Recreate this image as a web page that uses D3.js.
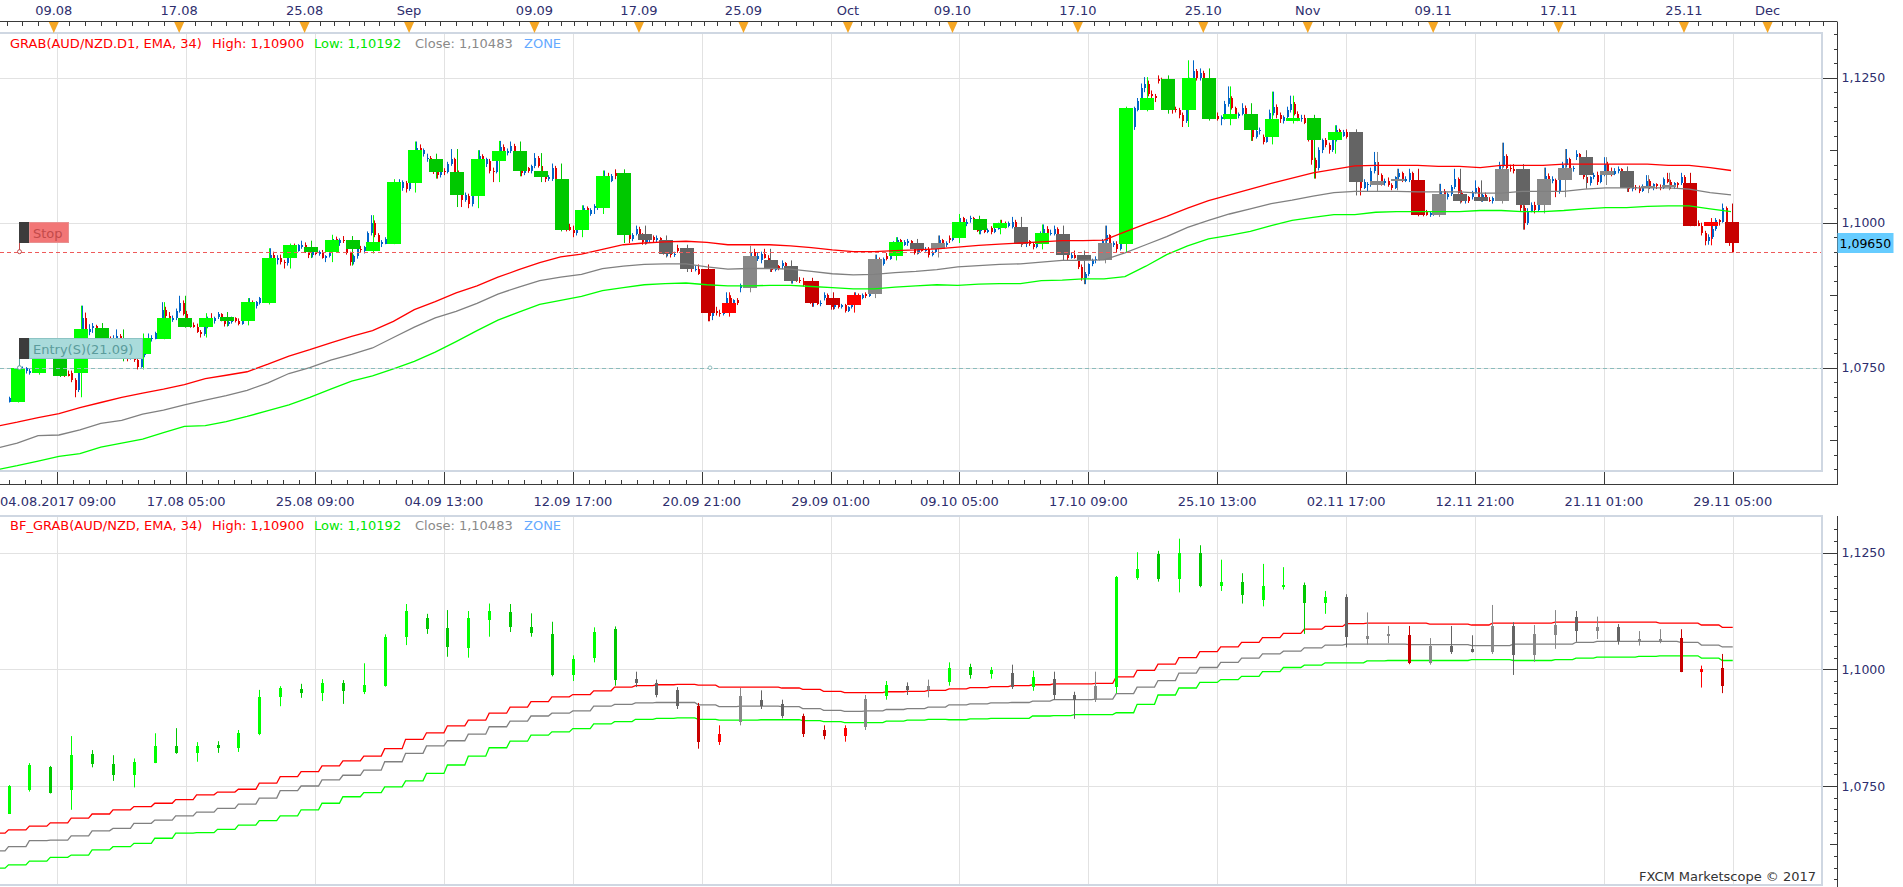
<!DOCTYPE html>
<html lang="en">
<head>
<meta charset="utf-8">
<title>GRAB AUD/NZD</title>
<script src="https://cdn.jsdelivr.net/npm/d3@7"></script>
<style>
  html, body { margin: 0; padding: 0; background: #fff; }
  #chart svg { display: block; font-family: "DejaVu Sans", Verdana, sans-serif; }
</style>
</head>
<body>
<div id="chart"></div>
<script>
// 1. daily GRAB candles (trading day k = 0 is 07.08.2017)
const dayOpen = [
  1.0691,1.0741,1.0791,1.0741,1.0818,1.0798,1.0773,1.0799,1.0836,1.0821,
  1.0838,1.0831,1.0861,1.0940,1.0958,1.0949,1.0970,1.0952,1.0964,1.1069,
  1.1109,1.1088,1.1046,1.1106,1.1123,1.1090,1.1075,1.0988,1.1025,1.1086,
  1.0980,1.0970,1.0956,1.0921,1.0845,1.0887,1.0935,1.0925,1.0900,1.0870,
  1.0858,1.0877,1.0942,1.0965,1.0955,1.0973,1.1006,1.0991,1.0992,1.0963,
  1.0980,1.0945,1.0935,1.0963,1.1195,1.1247,1.1194,1.1249,1.1178,1.1187,
  1.1148,1.1176,1.1180,1.1142,1.1156,1.1065,1.1072,1.1073,1.1014,1.1049,
  1.1044,1.1037,1.1093,1.1031,1.1073,1.1113,1.1083,1.1090,1.1060,1.1061,
  1.1068,1.0995,1.1002];
const dayHigh = [
  1.0752,1.0799,1.0793,1.0857,1.0827,1.0816,1.0809,1.0863,1.0874,1.0844,
  1.0846,1.0870,1.0956,1.0964,1.0969,1.0979,1.0977,1.1013,1.1075,1.1140,
  1.1119,1.1127,1.1125,1.1141,1.1140,1.1120,1.1102,1.1030,1.1090,1.1092,
  1.0995,1.0978,1.0962,1.0928,1.0880,1.0960,1.0955,1.0935,1.0905,1.0880,
  1.0880,1.0945,1.0975,1.0972,1.0978,1.1015,1.1012,1.1005,1.1010,1.0997,
  1.0995,1.0952,1.0995,1.1200,1.1251,1.1254,1.1280,1.1266,1.1235,1.1206,
  1.1226,1.1219,1.1186,1.1168,1.1161,1.1122,1.1093,1.1093,1.1067,1.1093,
  1.1073,1.1138,1.1101,1.1095,1.1127,1.1125,1.1113,1.1097,1.1082,1.1086,
  1.1086,1.1008,1.1033];
const dayLow = [
  1.0690,1.0738,1.0734,1.0699,1.0790,1.0761,1.0747,1.0799,1.0819,1.0802,
  1.0821,1.0823,1.0859,1.0921,1.0939,1.0932,1.0926,1.0947,1.0963,1.1052,
  1.1076,1.1027,1.1025,1.1070,1.1080,1.1070,1.0985,1.0975,1.1015,1.0965,
  1.0962,1.0940,1.0915,1.0830,1.0838,1.0880,1.0915,1.0895,1.0855,1.0850,
  1.0845,1.0870,1.0935,1.0945,1.0940,1.0965,1.0980,1.0980,1.0958,1.0954,
  1.0935,1.0894,1.0930,1.0949,1.1192,1.1188,1.1165,1.1176,1.1168,1.1141,
  1.1135,1.1171,1.1076,1.1119,1.1047,1.1053,1.1056,1.1011,1.1010,1.1033,
  1.1036,1.1033,1.0988,1.1016,1.1044,1.1059,1.1065,1.1053,1.1051,1.1056,
  1.0994,1.0961,1.0949];
const dayClose = [
  1.0749,1.0795,1.0736,1.0816,1.0798,1.0773,1.0802,1.0836,1.0820,1.0836,
  1.0831,1.0863,1.0940,1.0961,1.0949,1.0970,1.0954,1.0966,1.1070,1.1125,
  1.1087,1.1047,1.1109,1.1124,1.1090,1.1078,1.0988,1.1022,1.1081,1.0978,
  1.0970,1.0946,1.0921,1.0845,1.0862,1.0942,1.0921,1.0900,1.0862,1.0858,
  1.0875,1.0937,1.0967,1.0955,1.0965,1.1002,1.0987,1.0999,1.0963,1.0983,
  1.0944,1.0935,1.0965,1.1197,1.1215,1.1194,1.1249,1.1178,1.1187,1.1159,
  1.1178,1.1180,1.1142,1.1156,1.1070,1.1072,1.1075,1.1014,1.1049,1.1037,
  1.1037,1.1093,1.1031,1.1076,1.1095,1.1083,1.1090,1.1060,1.1064,1.1065,
  1.0995,1.1001,1.0965];
// U = above the wave, N = inside the zone, D = below
const dayZone = ("UUUUUUUUUUUUUUUUUUUUUUUU" + "UUUUUU" + "NNN" + "DD" + "NNN" + "DDD" + "N" + "U" +
  "NN" + "UUU" + "N" + "U" + "NNN" + "UUUUUUUUUUU" + "NNN" + "D" + "NNNNNNNNNNNN" + "DDD").split("");

// 2. H4 bars of each day: high, low, close in 0.0001 steps above 1.0000 (open = previous close)
const h4Bars = [
  [700,690,697, 712,695,710, 725,706,722, 738,718,735, 752,730,744, 751,740,749],
  [748,738,745, 760,742,756, 772,750,768, 785,764,770, 799,768,792, 798,786,795],
  [793,780,783, 788,765,768, 775,752,770, 772,748,750, 758,734,740, 745,735,736],
  [745,725,728, 732,699,712, 760,708,755, 857,752,835, 845,805,812, 825,806,816],
  [827,810,822, 824,805,808, 815,800,812, 818,802,804, 810,796,800, 804,790,798],
  [806,790,802, 816,798,805, 808,785,788, 792,770,775, 780,761,768, 776,764,773],
  [778,760,763, 766,747,752, 775,750,772, 792,768,790, 809,786,800, 806,795,802],
  [812,799,810, 830,806,826, 863,822,850, 855,835,840, 846,828,832, 840,829,836],
  [852,832,848, 874,845,862, 866,840,843, 848,826,830, 835,819,824, 828,819,820],
  [826,810,812, 815,802,808, 825,805,822, 838,818,834, 844,828,830, 838,826,836],
  [846,834,842, 844,830,833, 836,821,825, 832,822,829, 838,826,835, 837,828,831],
  [835,823,826, 842,824,840, 852,836,849, 870,845,858, 866,850,856, 865,852,863],
  [872,859,870, 895,866,890, 925,886,918, 956,915,945, 950,930,935, 944,928,940],
  [945,928,932, 936,921,930, 946,926,944, 958,940,955, 964,948,952, 963,950,961],
  [969,955,962, 966,948,950, 955,939,944, 956,940,952, 958,944,946, 952,943,949],
  [953,938,940, 944,932,942, 958,940,956, 979,952,972, 976,962,965, 973,960,970],
  [977,965,968, 970,945,948, 950,926,932, 945,928,942, 958,938,955, 960,948,954],
  [960,947,958, 985,955,982, 1013,978,1000, 1004,975,978, 982,960,964, 970,958,966],
  [975,963,972, 995,968,990, 1030,986,1025, 1055,1020,1050, 1075,1045,1060, 1073,1055,1070],
  [1072,1052,1058, 1085,1055,1082, 1115,1078,1110, 1140,1105,1128, 1135,1112,1118, 1128,1114,1125],
  [1119,1105,1112, 1115,1095,1098, 1102,1084,1090, 1096,1076,1082, 1092,1078,1090, 1094,1082,1087],
  [1105,1085,1102, 1127,1098,1110, 1112,1080,1084, 1090,1050,1055, 1062,1027,1040, 1052,1036,1047],
  [1050,1025,1032, 1058,1028,1055, 1082,1050,1078, 1125,1075,1115, 1118,1098,1102, 1112,1096,1109],
  [1110,1085,1090, 1095,1070,1088, 1118,1085,1115, 1141,1112,1130, 1135,1118,1120, 1128,1116,1124],
  [1140,1120,1132, 1136,1110,1114, 1120,1095,1100, 1108,1080,1086, 1098,1082,1094, 1096,1086,1090],
  [1100,1085,1098, 1120,1094,1112, 1115,1095,1098, 1102,1080,1084, 1088,1070,1075, 1082,1072,1078],
  [1102,1072,1095, 1098,1070,1072, 1075,1030,1035, 1040,1000,1005, 1010,985,992, 998,986,988],
  [995,975,982, 1000,978,998, 1012,992,1008, 1030,1004,1026, 1028,1010,1015, 1025,1012,1022],
  [1032,1015,1028, 1045,1022,1042, 1068,1040,1065, 1090,1060,1078, 1086,1068,1072, 1084,1070,1081],
  [1092,1075,1080, 1082,1040,1045, 1050,1010,1015, 1020,985,990, 995,965,972, 982,968,978],
  [995,978,990, 993,975,978, 982,962,966, 975,963,972, 980,966,975, 978,966,970],
  [978,965,973, 975,955,958, 962,945,950, 956,942,954, 958,940,944, 950,941,946],
  [962,948,952, 955,938,940, 945,928,932, 940,925,936, 938,915,920, 926,916,921],
  [928,910,912, 915,885,888, 892,860,865, 870,830,840, 852,832,848, 855,840,845],
  [850,838,842, 858,840,855, 880,852,870, 875,856,858, 868,852,866, 870,858,862],
  [895,880,892, 915,888,912, 938,908,935, 960,930,950, 955,935,938, 948,934,942],
  [950,930,946, 955,938,940, 944,925,928, 935,915,918, 928,916,925, 927,918,921],
  [935,920,930, 932,912,915, 918,902,905, 912,895,908, 912,898,902, 906,896,900],
  [905,890,892, 895,875,878, 882,860,865, 870,855,868, 872,858,860, 866,856,862],
  [880,866,875, 878,860,862, 866,850,854, 862,851,860, 864,852,855, 860,852,858],
  [860,845,848, 856,846,854, 868,852,866, 880,862,872, 878,866,870, 878,868,875],
  [880,870,874, 895,872,892, 918,890,915, 945,912,930, 940,925,928, 940,926,937],
  [948,935,938, 952,936,950, 968,948,962, 975,958,970, 972,960,962, 970,960,967],
  [972,960,968, 970,955,958, 960,945,948, 956,946,954, 960,950,952, 958,950,955],
  [958,940,944, 952,942,950, 965,948,962, 978,958,970, 972,960,962, 968,958,965],
  [978,965,970, 985,968,982, 1000,980,996, 1015,992,1008, 1010,995,998, 1006,994,1002],
  [1012,1000,1008, 1010,995,998, 1000,984,986, 992,980,990, 994,982,984, 990,982,987],
  [994,980,984, 992,982,990, 1000,988,998, 1005,994,996, 1002,990,994, 1002,992,999],
  [1010,990,1002, 1005,985,988, 990,970,974, 980,962,966, 972,958,968, 970,960,963],
  [966,954,958, 970,956,968, 985,965,980, 997,978,990, 994,980,982, 988,978,983],
  [995,978,990, 992,972,975, 978,958,962, 966,945,950, 955,935,940, 948,938,944],
  [952,938,940, 944,920,924, 928,900,905, 915,894,912, 930,908,928, 938,925,935],
  [942,930,938, 955,935,952, 972,948,968, 995,965,978, 980,960,962, 968,958,965],
  [968,949,955, 990,952,985, 1060,980,1055, 1120,1050,1115, 1170,1110,1165, 1200,1160,1197],
  [1215,1192,1210, 1240,1205,1232, 1251,1225,1240, 1245,1218,1222, 1228,1210,1218, 1222,1208,1215],
  [1254,1240,1245, 1250,1230,1235, 1240,1215,1220, 1225,1200,1205, 1210,1188,1196, 1200,1190,1194],
  [1198,1180,1185, 1190,1165,1175, 1215,1172,1210, 1250,1205,1245, 1280,1240,1262, 1265,1245,1249],
  [1266,1245,1258, 1262,1235,1240, 1245,1215,1220, 1225,1195,1200, 1205,1180,1184, 1190,1176,1178],
  [1185,1168,1182, 1210,1178,1205, 1235,1200,1215, 1218,1195,1198, 1200,1180,1184, 1190,1180,1187],
  [1206,1185,1198, 1202,1180,1183, 1186,1160,1165, 1170,1141,1148, 1162,1145,1158, 1164,1152,1159],
  [1152,1135,1140, 1160,1138,1155, 1195,1150,1190, 1226,1185,1200, 1204,1180,1185, 1190,1172,1178],
  [1185,1171,1182, 1200,1178,1195, 1219,1190,1205, 1208,1185,1188, 1192,1175,1178, 1186,1174,1180],
  [1186,1170,1172, 1175,1140,1145, 1150,1100,1108, 1112,1076,1095, 1130,1090,1125, 1145,1120,1142],
  [1146,1130,1134, 1138,1119,1125, 1145,1122,1142, 1168,1140,1160, 1162,1148,1150, 1160,1148,1156],
  [1161,1145,1148, 1150,1120,1124, 1128,1095,1100, 1105,1070,1075, 1082,1047,1060, 1075,1058,1070],
  [1070,1053,1066, 1095,1062,1090, 1122,1085,1105, 1108,1080,1082, 1085,1064,1068, 1076,1064,1072],
  [1078,1062,1065, 1068,1056,1060, 1080,1058,1078, 1093,1075,1085, 1088,1070,1072, 1080,1070,1075],
  [1093,1070,1085, 1088,1060,1062, 1065,1040,1045, 1050,1025,1028, 1032,1011,1018, 1022,1012,1014],
  [1020,1010,1016, 1030,1012,1028, 1045,1025,1040, 1067,1038,1055, 1058,1040,1044, 1052,1040,1049],
  [1065,1046,1062, 1093,1058,1075, 1078,1050,1052, 1056,1035,1040, 1046,1033,1044, 1046,1034,1037],
  [1055,1040,1052, 1073,1050,1060, 1062,1042,1045, 1050,1036,1048, 1052,1038,1040, 1044,1036,1037],
  [1045,1033,1042, 1070,1040,1068, 1105,1065,1100, 1138,1095,1115, 1118,1090,1095, 1100,1088,1093],
  [1101,1085,1090, 1092,1060,1065, 1068,1020,1025, 1030,988,1000, 1025,996,1020, 1035,1018,1031],
  [1036,1016,1022, 1045,1020,1042, 1070,1040,1066, 1095,1062,1080, 1085,1068,1072, 1080,1068,1076],
  [1076,1044,1055, 1082,1050,1078, 1105,1075,1100, 1127,1095,1110, 1112,1090,1092, 1098,1088,1095],
  [1125,1108,1118, 1120,1095,1098, 1100,1075,1078, 1082,1059,1068, 1080,1064,1078, 1086,1075,1083],
  [1088,1065,1070, 1085,1068,1082, 1113,1080,1102, 1105,1085,1088, 1095,1080,1084, 1094,1082,1090],
  [1097,1085,1092, 1094,1075,1078, 1080,1062,1065, 1068,1053,1058, 1066,1054,1062, 1065,1056,1060],
  [1064,1051,1055, 1066,1053,1062, 1082,1060,1072, 1075,1058,1060, 1068,1056,1066, 1068,1058,1064],
  [1066,1056,1060, 1078,1058,1075, 1086,1068,1070, 1074,1058,1062, 1070,1058,1068, 1070,1060,1065],
  [1086,1065,1078, 1082,1050,1055, 1060,1025,1030, 1035,1005,1010, 1015,994,1000, 1004,994,995],
  [1000,978,982, 986,961,968, 980,962,975, 995,972,990, 1008,986,1004, 1006,995,1001],
  [1033,1000,1025, 1028,985,990, 995,960,968, 975,949,965]
];

// 3. EMA(34) wave, one value per day, first value is day -1 (04.08)
const emaHigh = [1.0649,
  1.0656,1.0664,1.0671,1.0681,1.0690,1.0699,1.0706,1.0713,1.0721,1.0731,
  1.0737,1.0743,1.0756,1.0770,1.0781,1.0793,1.0804,1.0814,1.0830,1.0850,
  1.0864,1.0879,1.0891,1.0906,1.0919,1.0931,1.0941,1.0946,1.0954,1.0962,
  1.0965,1.0967,1.0968,1.0966,1.0962,1.0962,1.0962,1.0960,1.0957,1.0953,
  1.0950,1.0950,1.0952,1.0953,1.0955,1.0958,1.0961,1.0963,1.0965,1.0967,
  1.0969,1.0969,1.0970,1.0984,1.0998,1.1011,1.1025,1.1038,1.1048,1.1058,
  1.1068,1.1077,1.1086,1.1092,1.1098,1.1099,1.1099,1.1099,1.1097,1.1097,
  1.1095,1.1099,1.1099,1.1099,1.1101,1.1101,1.1101,1.1101,1.1101,1.1099,
  1.1099,1.1095,1.1090];
const emaClose = [1.0611,
  1.0620,1.0633,1.0634,1.0643,1.0654,1.0659,1.0670,1.0677,1.0686,1.0694,
  1.0702,1.0711,1.0724,1.0740,1.0750,1.0763,1.0773,1.0784,1.0802,1.0820,
  1.0836,1.0847,1.0861,1.0877,1.0889,1.0900,1.0906,1.0911,1.0921,1.0925,
  1.0928,1.0929,1.0929,1.0924,1.0920,1.0921,1.0921,1.0920,1.0916,1.0912,
  1.0910,1.0911,1.0914,1.0916,1.0919,1.0924,1.0926,1.0928,1.0929,1.0932,
  1.0935,1.0935,1.0936,1.0948,1.0962,1.0976,1.0992,1.1004,1.1015,1.1024,
  1.1033,1.1039,1.1046,1.1052,1.1054,1.1054,1.1054,1.1053,1.1053,1.1053,
  1.1051,1.1051,1.1054,1.1054,1.1054,1.1058,1.1060,1.1060,1.1060,1.1060,
  1.1058,1.1052,1.1048];
const emaLow = [1.0574,
  1.0581,1.0589,1.0597,1.0602,1.0613,1.0620,1.0627,1.0638,1.0649,1.0650,
  1.0657,1.0666,1.0676,1.0686,1.0699,1.0713,1.0727,1.0736,1.0748,1.0761,
  1.0777,1.0795,1.0814,1.0832,1.0846,1.0859,1.0866,1.0873,1.0883,1.0888,
  1.0893,1.0895,1.0896,1.0893,1.0891,1.0891,1.0892,1.0892,1.0890,1.0888,
  1.0886,1.0886,1.0889,1.0891,1.0893,1.0892,1.0894,1.0895,1.0895,1.0900,
  1.0901,1.0903,1.0903,1.0907,1.0925,1.0945,1.0960,1.0972,1.0978,1.0985,
  1.0995,1.1004,1.1009,1.1014,1.1014,1.1018,1.1019,1.1019,1.1019,1.1019,
  1.1021,1.1021,1.1019,1.1019,1.1021,1.1024,1.1026,1.1026,1.1028,1.1029,
  1.1029,1.1024,1.1019];

// 4. axes labels
const dateMarks = ["09.08","17.08","25.08","Sep","09.09","17.09","25.09","Oct","09.10","17.10","25.10","Nov","09.11","17.11","25.11","Dec"];
const dateMarkDay = [2, 8, 14, 19, 25, 30, 35, 40, 45, 51, 57, 62, 68, 74, 80, 84];
const dateMarkCal = [221, 229, 237, 244, 252, 260, 268, 274, 282, 290, 298, 305, 313, 321, 329, 335];
const timeLabels = ["04.08.2017 09:00","17.08 05:00","25.08 09:00","04.09 13:00","12.09 17:00","20.09 21:00","29.09 01:00",
  "09.10 05:00","17.10 09:00","25.10 13:00","02.11 17:00","12.11 21:00","21.11 01:00","29.11 05:00"];
const timeLabelBar = [14, 51, 88, 125, 162, 199, 236, 273, 310, 347, 384, 421, 458, 495];
const priceLabels = [1.075, 1.100, 1.125];
const lastClose = 1.0965, stopLevel = 1.0950, entryLevel = 1.0750;
const headerTop = ["GRAB(AUD/NZD.D1, EMA, 34)", "High: 1,10900", "Low: 1,10192", "Close: 1,10483", "ZONE"];
const headerBottom = ["BF_GRAB(AUD/NZD, EMA, 34)", "High: 1,10900", "Low: 1,10192", "Close: 1,10483", "ZONE"];

// 5. layout
const width = 1903, height = 887;
const PT = {x0: 0, x1: 1822, y0: 33, y1: 471};
const PB = {x0: 0, x1: 1822, y0: 516, y1: 885};
const AXIS_X = 1837.5;
const lastDay = dayClose.length - 1;

const x = d3.scaleLinear().domain([0, 6]).range([8.5, 8.5 + 20.9]); // 6 H4 bars per day
const yTop = d3.scaleLinear().domain([1.075, 1.125]).range([367.7, 77.7]);
const yBot = d3.scaleLinear().domain([1.075, 1.125]).range([786, 552.7]);

const zoneColor = {U: ["#00ff00", "#00c800"], N: ["#888888", "#646464"], D: ["#ff0000", "#c80000"]};
const days = dayClose.map((c, k) => ({k, o: dayOpen[k], h: dayHigh[k], l: dayLow[k], c, zone: dayZone[k]}));
const dayColor = d => zoneColor[d.zone][d.c >= d.o ? 0 : 1];
const fmtPrice = v => d3.format(".4f")(v).replace(".", ",");

// H4 records
const bars = [];
h4Bars.forEach((arr, k) => {
  let prev = dayOpen[k];
  for (let j = 0; j < arr.length / 3; j++) {
    const h = 1 + arr[3 * j] / 1e4, l = 1 + arr[3 * j + 1] / 1e4, c = 1 + arr[3 * j + 2] / 1e4;
    bars.push({t: 6 * k + j, o: prev, h: Math.max(h, prev, c), l: Math.min(l, prev, c), c});
    prev = c;
  }
});

const svg = d3.select("#chart").append("svg").attr("width", width).attr("height", height);
const defs = svg.append("defs");
[["clipTop", PT], ["clipBot", PB]].forEach(([id, p]) => {
  defs.append("clipPath").attr("id", id).append("rect")
    .attr("x", p.x0).attr("y", p.y0).attr("width", p.x1 - p.x0).attr("height", p.y1 - p.y0);
});

// 6. grid
function drawGrid(p, y, clip) {
  const g = svg.append("g").attr("clip-path", `url(#${clip})`).attr("shape-rendering", "crispEdges");
  g.selectAll("line.v").data(timeLabelBar).join("line")
    .attr("x1", d => Math.round(x(d)) + 0.5).attr("x2", d => Math.round(x(d)) + 0.5)
    .attr("y1", p.y0).attr("y2", p.y1).attr("stroke", "#e2e2e2");
  g.selectAll("line.h").data(priceLabels).join("line")
    .attr("x1", p.x0).attr("x2", p.x1)
    .attr("y1", d => Math.round(y(d)) + 0.5).attr("y2", d => Math.round(y(d)) + 0.5)
    .attr("stroke", "#e2e2e2");
}
drawGrid(PT, yTop, "clipTop");
drawGrid(PB, yBot, "clipBot");

// 7. EMA wave: bottom panel as steps, top panel as a line through mid-day points
function emaSteps(values) {
  const pts = [];
  values.forEach((v, i) => {
    const k = i - 1;
    pts.push([6 * k, v], [k === lastDay ? 6 * k + 3 : 6 * k + 5, v]);
  });
  return pts;
}
const emaMid = values => values.map((v, i) => [6 * (i - 1) + 2.5, v]);
const emaSeries = [[emaHigh, "#ff0000"], [emaClose, "#808080"], [emaLow, "#00ff00"]];

// 8. top panel: H4 candles, daily boxes, wave
const gTop = svg.append("g").attr("clip-path", "url(#clipTop)");
const barColor = d => d.c >= d.o ? "#0064c8" : "#e00000";
gTop.selectAll("line.h4").data(bars).join("line")
  .attr("x1", d => Math.round(x(d.t)) + 0.5).attr("x2", d => Math.round(x(d.t)) + 0.5)
  .attr("y1", d => yTop(d.h)).attr("y2", d => yTop(d.l))
  .attr("stroke", barColor).attr("stroke-width", 1);
gTop.selectAll("rect.h4").data(bars).join("rect")
  .attr("x", d => Math.round(x(d.t)) - 0.5).attr("width", 2)
  .attr("y", d => yTop(Math.max(d.o, d.c)))
  .attr("height", d => Math.max(1, yTop(Math.min(d.o, d.c)) - yTop(Math.max(d.o, d.c))))
  .attr("fill", barColor).attr("shape-rendering", "crispEdges");

gTop.selectAll("line.wick").data(days).join("line")
  .attr("x1", d => Math.round(x(6 * d.k + 2.75)) + 0.5).attr("x2", d => Math.round(x(6 * d.k + 2.75)) + 0.5)
  .attr("y1", d => yTop(d.h)).attr("y2", d => yTop(d.l))
  .attr("stroke", dayColor).attr("stroke-width", 1);
gTop.selectAll("rect.box").data(days).join("rect")
  .attr("x", d => Math.round(x(6 * d.k + 0.75)))
  .attr("width", 14)
  .attr("y", d => yTop(Math.max(d.o, d.c)))
  .attr("height", d => Math.max(1.5, yTop(Math.min(d.o, d.c)) - yTop(Math.max(d.o, d.c))))
  .attr("fill", dayColor).attr("shape-rendering", "crispEdges");
emaSeries.forEach(([vals, col]) => {
  gTop.append("path").datum(emaMid(vals))
    .attr("d", d3.line().x(d => x(d[0])).y(d => yTop(d[1])))
    .attr("fill", "none").attr("stroke", col).attr("stroke-width", 1.3);
});

// stop / entry levels
const lv = svg.append("g").attr("clip-path", "url(#clipTop)");
lv.append("line").attr("x1", PT.x0).attr("x2", PT.x1)
  .attr("y1", Math.round(yTop(stopLevel)) + 0.5).attr("y2", Math.round(yTop(stopLevel)) + 0.5)
  .attr("stroke", "#ee5a5a").attr("stroke-dasharray", "4,3");
lv.append("line").attr("x1", PT.x0).attr("x2", PT.x1)
  .attr("y1", Math.round(yTop(entryLevel)) + 0.5).attr("y2", Math.round(yTop(entryLevel)) + 0.5)
  .attr("stroke", "#8bbcbc").attr("stroke-dasharray", "4,3");

function levelTag(yLevel, yBox, w, bg, border, fg, label) {
  const g = svg.append("g");
  g.append("line").attr("x1", 19.5).attr("x2", 19.5).attr("y1", yBox + 21).attr("y2", yLevel)
    .attr("stroke", fg).attr("stroke-width", 1);
  g.append("circle").attr("cx", 19.5).attr("cy", yLevel).attr("r", 2)
    .attr("fill", "#fff").attr("stroke", fg);
  g.append("rect").attr("x", 19).attr("y", yBox).attr("width", 10).attr("height", 21).attr("fill", "#3c3c3c");
  g.append("rect").attr("x", 29.5).attr("y", yBox + 0.5).attr("width", w).attr("height", 20)
    .attr("fill", bg).attr("stroke", border);
  g.append("text").attr("x", 33).attr("y", yBox + 15.5).attr("font-size", 13).attr("fill", fg).text(label);
}
levelTag(yTop(stopLevel), 222, 39, "#f27676", "#e89090", "#c24a4a", "Stop");
levelTag(yTop(entryLevel), 338, 113, "#a9dbdb", "#8cc4c4", "#5b9c9c", "Entry(S)(21.09)");
svg.append("circle").attr("cx", 710).attr("cy", yTop(entryLevel)).attr("r", 1.8)
  .attr("fill", "#fff").attr("stroke", "#8bbcbc");

// 9. bottom panel: wave steps + thin candles
const gBot = svg.append("g").attr("clip-path", "url(#clipBot)");
emaSeries.forEach(([vals, col]) => {
  gBot.append("path").datum(emaSteps(vals))
    .attr("d", d3.line().x(d => x(d[0])).y(d => yBot(d[1])))
    .attr("fill", "none").attr("stroke", col).attr("stroke-width", 1.3);
});
gBot.selectAll("line.wick").data(days).join("line")
  .attr("x1", d => Math.round(x(6 * d.k)) + 0.5).attr("x2", d => Math.round(x(6 * d.k)) + 0.5)
  .attr("y1", d => yBot(d.h)).attr("y2", d => yBot(d.l))
  .attr("stroke", dayColor);
gBot.selectAll("rect.body").data(days).join("rect")
  .attr("x", d => Math.round(x(6 * d.k)) - 1).attr("width", 3)
  .attr("y", d => yBot(Math.max(d.o, d.c)))
  .attr("height", d => Math.max(1.5, yBot(Math.min(d.o, d.c)) - yBot(Math.max(d.o, d.c))))
  .attr("fill", dayColor).attr("shape-rendering", "crispEdges");

// 10. panel borders
[PT, PB].forEach(p => {
  svg.append("path")
    .attr("d", `M${p.x0},${p.y0}H${p.x1}V${p.y1}H${p.x0}`)
    .attr("fill", "none").attr("stroke", "#cfd7e2").attr("stroke-width", 2);
});

// 11. headers
function header(items, yBase) {
  const cols = ["#ff0000", "#ff0000", "#00e600", "#8a8a8a", "#66aaff"];
  const xs = [10, 212, 314, 415, 524];
  svg.append("g").selectAll("text").data(items).join("text")
    .attr("x", (d, i) => xs[i]).attr("y", yBase).attr("font-size", 13)
    .attr("fill", (d, i) => cols[i]).text(d => d);
}
header(headerTop, 48);
header(headerBottom, 530);

// 12. top date axis
const axisCol = "#3a3a3a", labelCol = "#2e2e6e";
const gDate = svg.append("g");
gDate.append("line").attr("x1", 0).attr("x2", AXIS_X).attr("y1", 21.5).attr("y2", 21.5).attr("stroke", axisCol);
const markX = dateMarkDay.map(d => x(6 * d + 1));
const calScale = d3.scaleLinear().domain(dateMarkCal).range(markX);
const calTicks = d3.range(205, 350).map(c => calScale(c)).filter(v => v > 0 && v < AXIS_X - 1);
gDate.selectAll("line.t").data(calTicks).join("line")
  .attr("x1", d => Math.round(d) + 0.5).attr("x2", d => Math.round(d) + 0.5)
  .attr("y1", 21.5).attr("y2", 26).attr("stroke", axisCol);
gDate.selectAll("path.tri").data(markX).join("path")
  .attr("d", d => `M${d - 5},22L${d + 5},22L${d},33Z`).attr("fill", "#f5a623");
gDate.selectAll("text").data(dateMarks).join("text")
  .attr("x", (d, i) => markX[i]).attr("y", 14.5).attr("text-anchor", "middle")
  .attr("font-size", 13).attr("fill", labelCol).text(d => d);

// 13. time axis between panels
const gTime = svg.append("g").attr("shape-rendering", "crispEdges");
gTime.append("line").attr("x1", 0).attr("x2", AXIS_X).attr("y1", 484.5).attr("y2", 484.5).attr("stroke", axisCol);
const minorBars = d3.range(-8, 66).map(i => 14 + i * 37 / 8).filter(t => x(t) > 0 && x(t) < AXIS_X - 1);
gTime.selectAll("line.mn").data(minorBars).join("line")
  .attr("x1", d => Math.round(x(d)) + 0.5).attr("x2", d => Math.round(x(d)) + 0.5)
  .attr("y1", 484.5).attr("y2", 480)
  .attr("stroke", axisCol);
gTime.selectAll("line.mj").data(timeLabelBar).join("line")
  .attr("x1", d => Math.round(x(d)) + 0.5).attr("x2", d => Math.round(x(d)) + 0.5)
  .attr("y1", 472).attr("y2", 484.5).attr("stroke", axisCol);
svg.append("g").selectAll("text").data(timeLabels).join("text")
  .attr("x", (d, i) => x(timeLabelBar[i]))
  .attr("text-anchor", "middle")
  .attr("y", 506).attr("font-size", 13).attr("fill", labelCol).text(d => d)
  .each(function () {
    // keep the first label inside the left edge
    const w = this.getComputedTextLength();
    const cx = +this.getAttribute("x");
    if (cx - w / 2 < 0) this.setAttribute("x", w / 2);
  });

// 14. price axes
function priceAxis(y, yA, yB) {
  const g = svg.append("g").attr("shape-rendering", "crispEdges");
  g.append("line").attr("x1", AXIS_X).attr("x2", AXIS_X).attr("y1", yA).attr("y2", yB).attr("stroke", axisCol);
  const vals = d3.range(420, 456).map(i => i * 0.0025).filter(v => y(v) > yA + 3 && y(v) < yB - 2);
  const isMajor = v => priceLabels.some(p => Math.abs(p - v) < 1e-6);
  const isMid = v => Math.abs(v / 0.0125 - Math.round(v / 0.0125)) < 1e-6;
  const tickG = g.append("g").attr("transform", `translate(${AXIS_X},0)`);
  tickG.call(d3.axisLeft(y).tickValues(vals).tickFormat("")
      .tickSizeOuter(0).tickSizeInner(4))
    .call(a => a.select(".domain").remove())
    .call(a => a.selectAll(".tick line")
      .attr("x2", d => isMajor(d) ? -15 : isMid(d) ? -8 : -4).attr("stroke", axisCol));
  const lab = g.append("g").attr("transform", `translate(${AXIS_X},0)`)
    .call(d3.axisRight(y).tickValues(priceLabels).tickSize(0).tickPadding(4).tickFormat(fmtPrice));
  lab.select(".domain").remove();
  lab.selectAll("text").attr("font-size", 12.5).attr("font-family", "DejaVu Sans, Verdana, sans-serif").attr("fill", labelCol);
}
priceAxis(yTop, 21.5, 484.5);
priceAxis(yBot, 516, 887);

// last price tag
const yl = yTop(lastClose);
svg.append("rect").attr("x", AXIS_X).attr("y", yl - 10).attr("width", 56).attr("height", 20).attr("fill", "#66ccff");
svg.append("text").attr("x", AXIS_X + 2).attr("y", yl + 4.5).attr("font-size", 12.5).attr("fill", "#000").text(d3.format(".5f")(lastClose).replace(".", ","));

// 15. footer
svg.append("text").attr("x", 1816).attr("y", 881).attr("text-anchor", "end")
  .attr("font-size", 13).attr("fill", "#333").text("FXCM Marketscope © 2017");
</script>
</body>
</html>
